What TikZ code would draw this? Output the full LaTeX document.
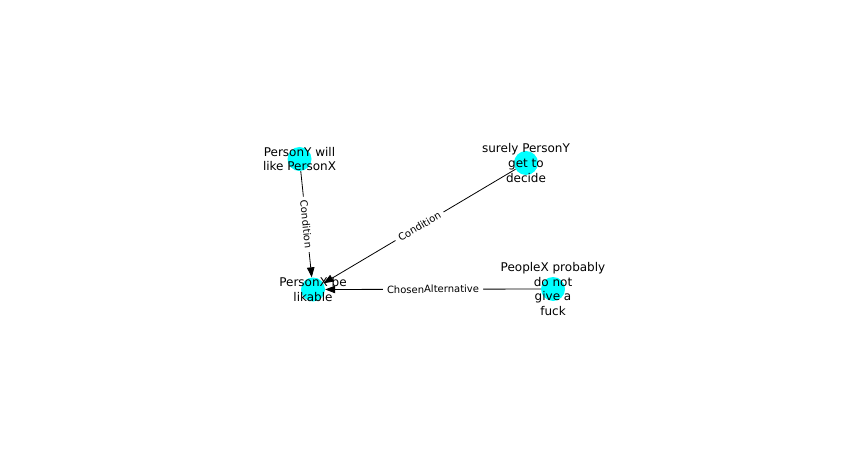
\documentclass[tikz,border=0pt]{standalone}
\usepackage{fontspec}
\setmainfont{DejaVu Sans}
\usetikzlibrary{arrows.meta}

\definecolor{vertexfill}{RGB}{0,255,255}

\tikzset{
  vertex/.style={circle, fill=vertexfill, draw=none, minimum size=24pt, inner sep=0pt},
  vlabel/.style={align=center, text=black, inner sep=0pt,
                 font=\fontsize{12}{14.6}\selectfont},
  link/.style={draw=black, line width=0.8pt,
               -{Triangle[length=10pt, width=7.5pt]}},
  elabel/.style={sloped, fill=white, inner xsep=4pt, inner ysep=1pt,
                 font=\fontsize{10}{12}\selectfont, text=black}
}

\begin{document}
\begin{tikzpicture}[x=1pt, y=-1pt]
  \useasboundingbox (0,0) rectangle (851,449);

  % vertices
  \node[vertex] (ylike)   at (299.5,159) {};
  \node[vertex] (decide)  at (526,163) {};
  \node[vertex] (likable) at (313,289.5) {};
  \node[vertex] (care)    at (553,289) {};

  % relations
  \draw[link] (ylike)  -- node[elabel] {Condition} (likable);
  \draw[link] (decide) -- node[elabel] {Condition} (likable);
  \draw[link] (care)   -- node[elabel] {ChosenAlternative} (likable);

  % vertex texts
  \node[vlabel] (ylikeT)   at (ylike)   {PersonY will\\like PersonX};
  \node[vlabel] (decideT)  at (decide)  {surely PersonY\\get to\\decide};
  \node[vlabel] (likableT) at (likable) {PersonX be\\likable};
  \node[vlabel] (careT)    at (care)    {PeopleX probably\\do not\\give a\\fuck};
\end{tikzpicture}
\end{document}
